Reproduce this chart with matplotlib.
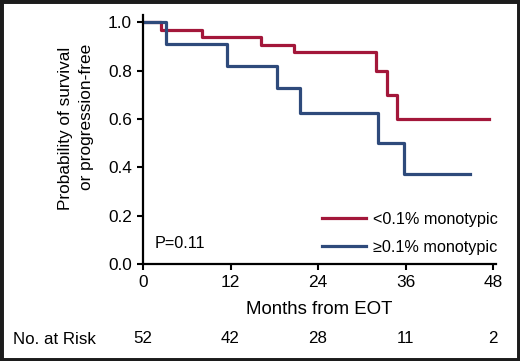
import matplotlib
matplotlib.use("Agg")
import matplotlib.pyplot as plt
from matplotlib.patches import Rectangle

# Kaplan-Meier steps
red_t = [0, 2.4, 8.1, 16.2, 20.7, 31.9, 33.5, 34.8, 47.5]
red_s = [1.0, 0.969, 0.938, 0.906, 0.875, 0.80, 0.70, 0.60, 0.60]
blue_t = [0, 3.1, 11.5, 18.4, 21.5, 32.2, 35.8, 44.8]
blue_s = [1.0, 0.909, 0.818, 0.727, 0.623, 0.50, 0.374, 0.374]

labels = ["<0.1% monotypic", "\u22650.1% monotypic"]
x_ticks = [0, 12, 24, 36, 48]
y_ticks = [0.0, 0.2, 0.4, 0.6, 0.8, 1.0]
at_risk = [52, 42, 28, 11, 2]

RED = "#A3173A"
BLUE = "#2E4A7B"
reg = ["Liberation Sans", "DejaVu Sans"]

fig = plt.figure(figsize=(5.2, 3.61), dpi=100)
ax = fig.add_axes([143 / 520, 1 - 264 / 361, 353 / 520, 249 / 361])

ax.step(red_t, red_s, where="post", color=RED, lw=2.3, label=labels[0])
ax.step(blue_t, blue_s, where="post", color=BLUE, lw=2.3, label=labels[1])

ax.set_xlim(0, 48.4)
ax.set_ylim(0, 1.03)
ax.set_xticks(x_ticks)
ax.set_yticks(y_ticks)
ax.set_xticklabels([str(v) for v in x_ticks], family=reg, fontsize=12.4)
ax.set_yticklabels([f"{v:.1f}" for v in y_ticks], family=reg, fontsize=12.4)
ax.tick_params(direction="out", length=4, width=1.5, pad=4, color="black")

for side in ["top", "right"]:
    ax.spines[side].set_visible(False)
for side in ["left", "bottom"]:
    ax.spines[side].set_linewidth(1.6)

ax.set_xlabel("Months from EOT", family=reg, fontsize=13.4, labelpad=8)
# two-line y label, drawn as two texts
fig.text(65.5 / 520, 1 - 128.5 / 361, "Probability of survival", rotation=90,
         ha="center", va="center", family=reg, fontsize=12.4)
fig.text(86 / 520, 1 - 117 / 361, "or progression-free", rotation=90,
         ha="center", va="center", family=reg, fontsize=12.4)

ax.text(1.6, 0.083, "P=0.11", family=reg, fontsize=11.7, va="center", ha="left")

leg = ax.legend(loc="lower right", bbox_to_anchor=(1.025, 0.012), frameon=False,
                prop={"family": reg, "size": 11.7}, handlelength=2.7,
                handletextpad=0.45, labelspacing=0.8, borderaxespad=0)

# number at risk row
fig.text(13 / 520, 1 - 339 / 361, "No. at Risk", family=reg, fontsize=12.2,
         ha="left", va="center")
for x, n in zip(x_ticks, at_risk):
    ax.text(x, -0.3, str(n), family=reg, fontsize=12.2, ha="center", va="center",
            transform=ax.get_xaxis_transform(), clip_on=False)

fig.patches.append(Rectangle((0, 0), 1, 1, transform=fig.transFigure, fill=False,
                             lw=5, ec="#1c1c1c"))

fig.savefig("out.png", dpi=100)
